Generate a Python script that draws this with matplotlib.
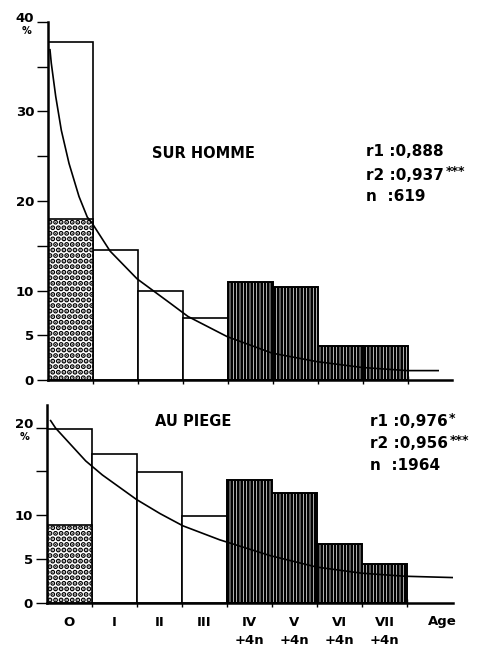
import matplotlib
matplotlib.use("Agg")
import matplotlib.pyplot as plt
import numpy as np

# ---------------- data ----------------
ages = ['O', 'I', 'II', 'III', 'IV\n+4n', 'V\n+4n', 'VI\n+4n', 'VII\n+4n']
homme_pct = [37.8, 14.5, 9.9, 6.9, 11.0, 10.4, 3.8, 3.8]
homme_O_dotted = 18.0
piege_pct = [19.8, 17.0, 14.9, 9.9, 14.0, 12.5, 6.7, 4.5]
piege_O_dotted = 8.9
n_plain = 4  # ages O..III plain, IV..VII hatched

homme_curve_x = [-0.456, -0.427, -0.329, -0.204, -0.033, 0.189, 0.373, 0.47, 0.88, 1.48,
                 2.21, 2.61, 3.48, 4.48, 5.48, 6.48, 7.48, 8.17]
homme_curve_y = [36.9, 35.4, 31.7, 27.9, 24.2, 20.5, 18.2, 17.6, 14.4, 11.3,
                 8.6, 7.1, 4.85, 3.0, 2.05, 1.4, 1.05, 1.05]
piege_curve_x = [-0.42, -0.31, 0.02, 0.36, 0.73, 1.49, 2.01, 2.52, 3.34, 4.46, 5.49, 6.49, 7.46, 8.52]
piege_curve_y = [20.8, 19.95, 18.1, 16.2, 14.6, 11.8, 10.2, 8.8, 7.2, 5.4, 4.1, 3.4, 3.05, 2.9]

homme_stats = ['r1 :0,888', 'r2 :0,937', 'n  :619']
homme_stars = ['', '***', '']
piege_stats = ['r1 :0,976', 'r2 :0,956', 'n  :1964']
piege_stars = ['*', '***', '']

plt.rcParams['font.family'] = ['DejaVu Sans']
plt.rcParams['font.weight'] = 'bold'

W, H = 496, 652
fig = plt.figure(figsize=(W / 100, H / 100), dpi=100)


def px_axes(left, top, right, bottom):
    return fig.add_axes([left / W, 1 - bottom / H, (right - left) / W, (bottom - top) / H])


def ftext(x, y, s, **kw):
    return fig.text(x / W, 1 - y / H, s, **kw)


def draw_panel(ax, pct, dotted, cx, cy, ymax, yticks, ylabels, show_x):
    x = np.arange(len(pct))
    plain = x[:n_plain]
    hatched = x[n_plain:]
    ax.bar(plain, [pct[i] for i in plain], width=1.0, facecolor='white',
           edgecolor='black', linewidth=1.2, zorder=2)
    with plt.rc_context({'hatch.linewidth': 1.9}):
        ax.bar(hatched, [pct[i] for i in hatched], width=1.0, facecolor='white',
               edgecolor='black', linewidth=1.4, hatch='|||||', zorder=2)
    with plt.rc_context({'hatch.linewidth': 2.6}):
        ax.bar([0], [dotted], width=1.0, facecolor='white', edgecolor='black',
               linewidth=1.2, hatch='...', zorder=2)
    ax.plot(cx, cy, color='black', lw=1.2, zorder=4, solid_joinstyle='round')

    for s in ['top', 'right']:
        ax.spines[s].set_visible(False)
    for s in ['left', 'bottom']:
        ax.spines[s].set_linewidth(1.8)
    ax.set_ylim(0, ymax)
    ax.set_yticks(yticks)
    ax.set_yticklabels(ylabels, fontsize=9.5, fontweight='bold')
    ax.tick_params(axis='y', direction='out', length=8, width=1.0, pad=2)
    for lbl in ax.get_yticklabels():
        if lbl.get_text() == ylabels[-1]:
            lbl.set_verticalalignment('baseline')
    ax.set_xticks(np.arange(0.5, len(pct) - 0.4, 1.0))
    ax.set_xticklabels([])
    ax.tick_params(axis='x', which='major', direction='inout', length=6, width=1.0)
    if show_x:
        ax.set_xticks(x, minor=True)
        ax.set_xticklabels(ages, minor=True, fontsize=9.5, fontweight='bold',
                           linespacing=1.6)
        ax.tick_params(axis='x', which='minor', length=0, pad=9)


# top panel: sur homme
ax1 = px_axes(48, 22, 452, 380)
ax1.set_xlim(-0.5, -0.5 + (452 - 48) / 45)
draw_panel(ax1, homme_pct, homme_O_dotted, homme_curve_x, homme_curve_y, 40,
           [0, 5, 10, 15, 20, 25, 30, 35, 40],
           ['0', '5', '10', '', '20', '', '30', '', '40'], False)

# bottom panel: au piege
ax2 = px_axes(47, 405, 453, 603)
ax2.set_xlim(-0.5, -0.5 + (453 - 47) / 45)
draw_panel(ax2, piege_pct, piege_O_dotted, piege_curve_x, piege_curve_y, (603 - 405) / 8.77,
           [0, 5, 10, 15, 20], ['0', '5', '10', '', '20'], True)

# percent signs
ftext(26, 31, '%', fontsize=7, ha='center', va='center')
ftext(25, 437, '%', fontsize=7, ha='center', va='center')

# titles
ftext(203, 154, 'SUR HOMME', fontsize=10.5, ha='center', va='center')
ftext(193, 421, 'AU PIEGE', fontsize=10.5, ha='center', va='center')

# statistics
for i, (s, st) in enumerate(zip(homme_stats, homme_stars)):
    y = [152, 175, 197][i]
    t = ftext(366, y, s, fontsize=11, ha='left', va='center')
    if st:
        ax1.annotate(st, xy=(1, 0.5), xycoords=t, xytext=(1, 2.5), textcoords='offset points',
                     fontsize=9, ha='left', va='center', annotation_clip=False)
for i, (s, st) in enumerate(zip(piege_stats, piege_stars)):
    y = [422, 444, 466][i]
    t = ftext(370, y, s, fontsize=11, ha='left', va='center')
    if st:
        ax2.annotate(st, xy=(1, 0.5), xycoords=t, xytext=(1, 2.5), textcoords='offset points',
                     fontsize=9, ha='left', va='center', annotation_clip=False)

ftext(442, 622, 'Age', fontsize=9.5, ha='center', va='center')

fig.savefig('out.png', dpi=100)
